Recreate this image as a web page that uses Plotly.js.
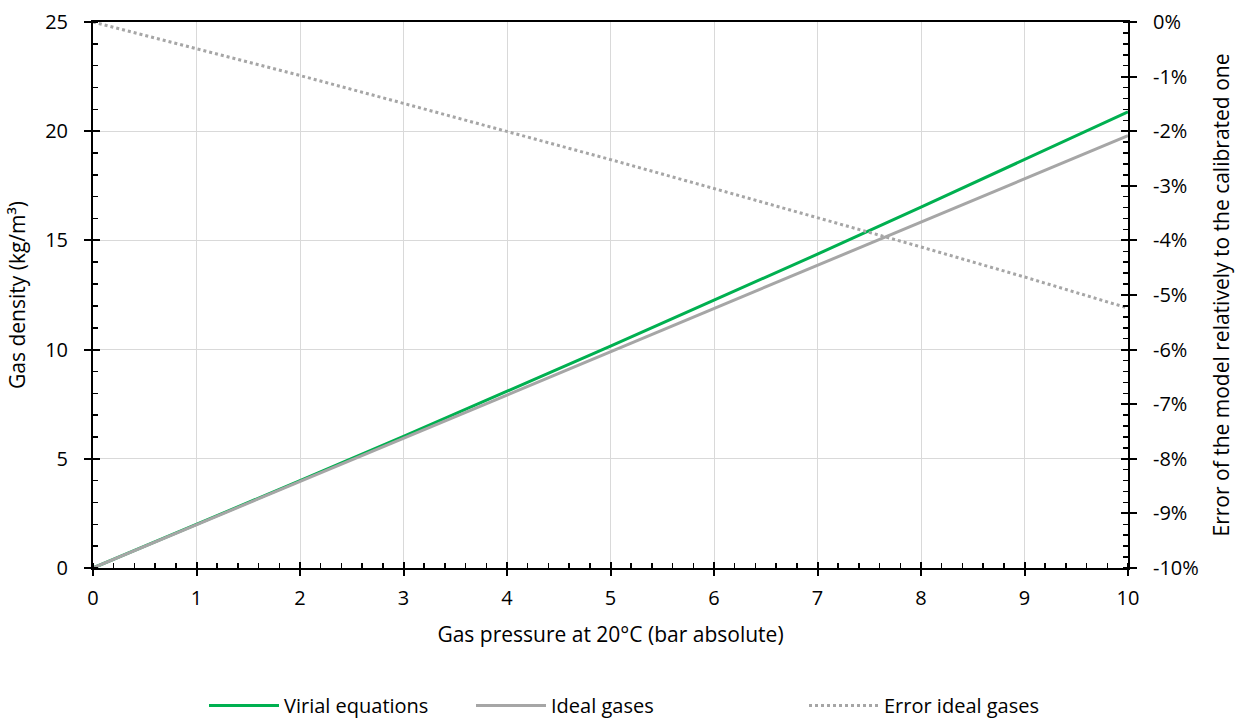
<!DOCTYPE html>
<html>
<head>
<meta charset="utf-8">
<script src="https://cdn.plot.ly/plotly-3.0.1.min.js"></script>
<style>html,body{margin:0;padding:0;background:#fff}#chart{width:1244px;height:720px}</style>
</head>
<body>
<div id="chart"></div>
<script>
// Data
const pressure = [0, 1, 2, 3, 4, 5, 6, 7, 8, 9, 10];            // bar absolute
const virialDensity = [0, 1.99, 4.00, 6.03, 8.08, 10.16, 12.26, 14.37, 16.52, 18.69, 20.89]; // kg/m3
const idealDensity = [0, 1.98, 3.96, 5.94, 7.92, 9.90, 11.88, 13.86, 15.84, 17.82, 19.80];    // kg/m3
const errorIdeal = [0, -0.49, -0.98, -1.49, -2.00, -2.52, -3.05, -3.58, -4.12, -4.67, -5.24]; // %
const seriesNames = ["Virial equations", "Ideal gases", "Error ideal gases"];
const errorTickVals = [-10, -9, -8, -7, -6, -5, -4, -3, -2, -1, 0];
const errorTickText = ["-10%", "-9%", "-8%", "-7%", "-6%", "-5%", "-4%", "-3%", "-2%", "-1%", "0%"];
const xTitle = "Gas pressure at 20°C (bar absolute)";
const yTitle = "Gas density (kg/m³)";
const y2Title = "Error of the model relatively to the calibrated one";

const FONT = "Open Sans, sans-serif";
const traces = [
  {x: pressure, y: virialDensity, name: seriesNames[0], mode: "lines", type: "scatter",
   line: {color: "#00b050", width: 3}, xaxis: "x", yaxis: "y", legend: "legend"},
  {x: pressure, y: idealDensity, name: seriesNames[1], mode: "lines", type: "scatter",
   line: {color: "#a6a6a6", width: 3}, xaxis: "x", yaxis: "y", legend: "legend2"},
  {x: pressure, y: errorIdeal, name: seriesNames[2], mode: "lines", type: "scatter",
   line: {color: "#a6a6a6", width: 3, dash: "dot"}, xaxis: "x", yaxis: "y2", legend: "legend3"}
];

const tickFont = {family: FONT, size: 20, color: "#000"};
const titleFont = {family: FONT, size: 21, color: "#000"};
const legFont = {family: FONT, size: 20, color: "#000"};
const legBase = {yref: "container", xref: "container", y: 0.02, xanchor: "left", yanchor: "middle",
  orientation: "h", font: legFont, bgcolor: "rgba(0,0,0,0)", itemwidth: 70, borderwidth: 0};
const layout = {
  width: 1244, height: 720,
  margin: {l: 93, r: 116, t: 22, b: 152},
  paper_bgcolor: "#fff", plot_bgcolor: "#fff",
  font: {family: FONT, color: "#000"},
  showlegend: true,
  xaxis: {
    range: [0, 10], dtick: 1, tick0: 0, showgrid: true, gridcolor: "#d9d9d9", gridwidth: 1,
    showline: true, linecolor: "#000", linewidth: 2, mirror: true, zeroline: false,
    ticks: "outside", ticklen: 6, tickwidth: 2, tickcolor: "#000", tickfont: tickFont,
    ticklabelstandoff: 5,
    minor: {dtick: 0.2, ticks: "inside", ticklen: 5, tickwidth: 1.5, tickcolor: "#000", showgrid: false},
    title: {text: xTitle, font: titleFont, standoff: 17}
  },
  xaxis2: {
    overlaying: "x", anchor: "y3", matches: "x", range: [0, 10], dtick: 1, tick0: 0,
    showgrid: false, showticklabels: false, zeroline: false, showline: false,
    ticks: "inside", ticklen: 6, tickwidth: 2, tickcolor: "#000"
  },
  yaxis: {
    range: [0, 25], dtick: 5, tick0: 0, showgrid: true, gridcolor: "#d9d9d9", gridwidth: 1,
    showline: true, linecolor: "#000", linewidth: 2, zeroline: false,
    ticks: "outside", ticklen: 7, tickwidth: 2, tickcolor: "#000", tickfont: tickFont,
    ticklabelstandoff: 12,
    minor: {dtick: 1, ticks: "inside", ticklen: 5, tickwidth: 1.5, tickcolor: "#000", showgrid: false},
    title: {text: yTitle, font: titleFont, standoff: 14}
  },
  yaxis2: {
    overlaying: "y", side: "right", anchor: "x", range: [-10, 0],
    tickmode: "array", tickvals: errorTickVals, ticktext: errorTickText,
    showgrid: false, zeroline: false,
    showline: true, linecolor: "#000", linewidth: 2,
    ticks: "outside", ticklen: 7, tickwidth: 2, tickcolor: "#000", tickfont: tickFont,
    ticklabelstandoff: 12,
    minor: {dtick: 0.2, tick0: 0, ticks: "inside", ticklen: 5, tickwidth: 1.5, tickcolor: "#000", showgrid: false},
    title: {text: y2Title, font: titleFont, standoff: 16}
  },
  yaxis3: {
    overlaying: "y", anchor: "x", side: "left", range: [0, 25], dtick: 5, tick0: 0,
    showgrid: false, showticklabels: false, zeroline: false, showline: false,
    ticks: "inside", ticklen: 7, tickwidth: 2, tickcolor: "#000"
  },
  yaxis4: {
    overlaying: "y", anchor: "x", side: "right", range: [-10, 0], dtick: 1, tick0: 0,
    showgrid: false, showticklabels: false, zeroline: false, showline: false,
    ticks: "inside", ticklen: 7, tickwidth: 2, tickcolor: "#000"
  },
  legend: Object.assign({}, legBase, {x: 204 / 1244}),
  legend2: Object.assign({}, legBase, {x: 471 / 1244}),
  legend3: Object.assign({}, legBase, {x: 804 / 1244})
};

// invisible helper traces so the overlay axes (inner halves of major ticks) are drawn
const helpers = [
  {x: [0], y: [0], xaxis: "x2", yaxis: "y3", mode: "markers", marker: {opacity: 0}, showlegend: false, hoverinfo: "skip"},
  {x: [0], y: [0], xaxis: "x", yaxis: "y4", mode: "markers", marker: {opacity: 0}, showlegend: false, hoverinfo: "skip"}
];

Plotly.newPlot("chart", helpers.concat(traces), layout, {staticPlot: true});
</script>
</body>
</html>
